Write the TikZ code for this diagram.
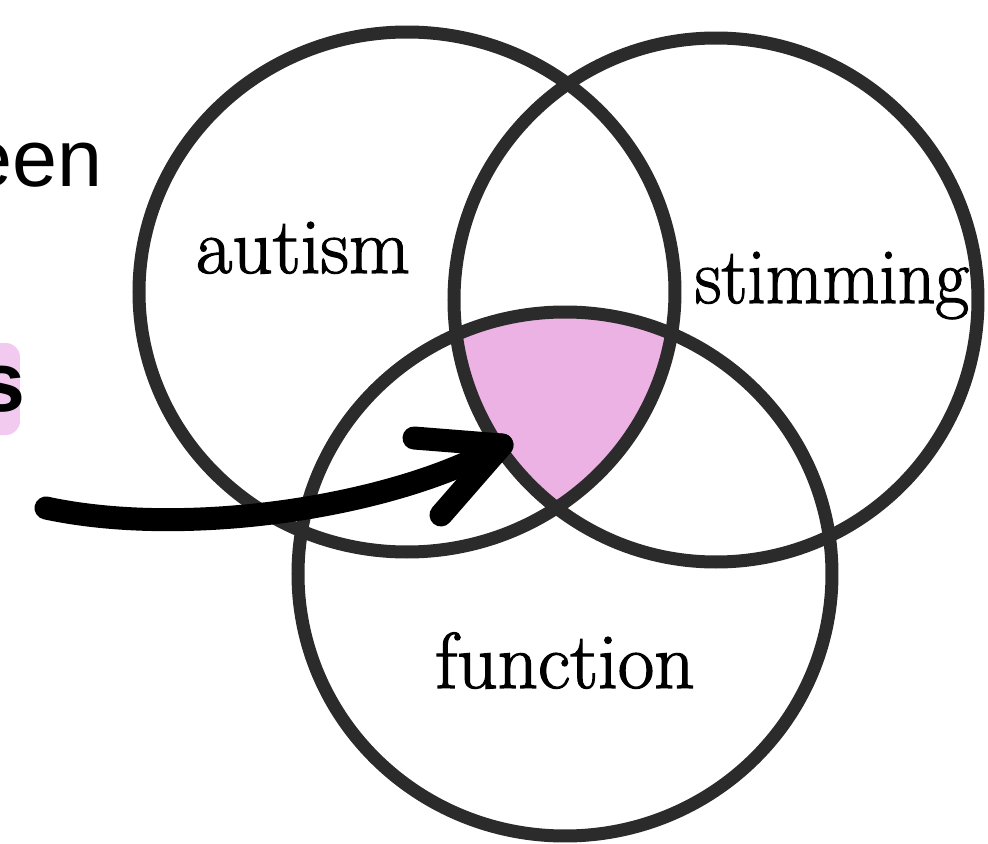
\documentclass[tikz,border=0pt]{standalone}
\usepackage{fontspec}
\newfontfamily\liberationsans{Liberation Sans}
\newfontfamily\labelserif[FakeBold=1.6]{Latin Modern Roman}
\usetikzlibrary{positioning}
\definecolor{ringgray}{HTML}{2B2B2B}
\definecolor{overlappink}{HTML}{EBB2E3}
\definecolor{markpink}{HTML}{F2CAEF}

\begin{document}
\begin{tikzpicture}[x=0.1mm, y=0.1mm,
    ring/.style={draw=ringgray, line width=1.3mm},
    setlabel/.style={inner sep=0pt, anchor=base, font=\labelserif\fontsize{22.5}{26}\selectfont},
    sidetext/.style={inner sep=0pt, anchor=base east},
    pointer/.style={line width=2.3mm, line cap=round, line join=round}]
    \useasboundingbox (0,0) rectangle (988,844);
    \clip (0,0) rectangle (988,844);

    \coordinate (autism) at (407,552);
    \coordinate (stimming) at (716,544);
    \coordinate (function) at (565,270);

    % overlap of all three sets
    \begin{scope}
        \clip (autism) ellipse [x radius=268, y radius=260];
        \clip (stimming) circle [radius=262];
        \fill[overlappink] (function) ellipse [x radius=267, y radius=262];
    \end{scope}

    % the three rings
    \draw[ring] (autism) ellipse [x radius=268, y radius=260];
    \draw[ring] (stimming) circle [radius=262];
    \draw[ring] (function) ellipse [x radius=267, y radius=262];

    \node[setlabel] (lblautism) at (303,571) {autism};
    \node[setlabel] (lblstimming) at (832,541) {\scalebox{0.93}[1]{stimming}};
    \node[setlabel] (lblfunction) at (565,156) {function};

    % cut-off text on the left
    \fill[markpink, rounded corners=4] (-20,409) rectangle (20,501);
    \node[sidetext, font=\liberationsans\fontsize{23}{28}\selectfont] (wordtop) at (103,658) {een};
    \node[sidetext, font=\liberationsans\bfseries\fontsize{24}{29}\selectfont] (wordmark) at (26,432) {s};

    % pointer into the overlap
    \coordinate (tail) at (46,336);
    \coordinate (tip) at (502,399);
    \coordinate (barbup) at (414,406);
    \coordinate (barbdown) at (441,329);
    \draw[pointer] (tail) .. controls (190,305) and (400,339) .. (tip);
    \draw[pointer] (barbup) -- (tip) -- (barbdown);
\end{tikzpicture}
\end{document}
